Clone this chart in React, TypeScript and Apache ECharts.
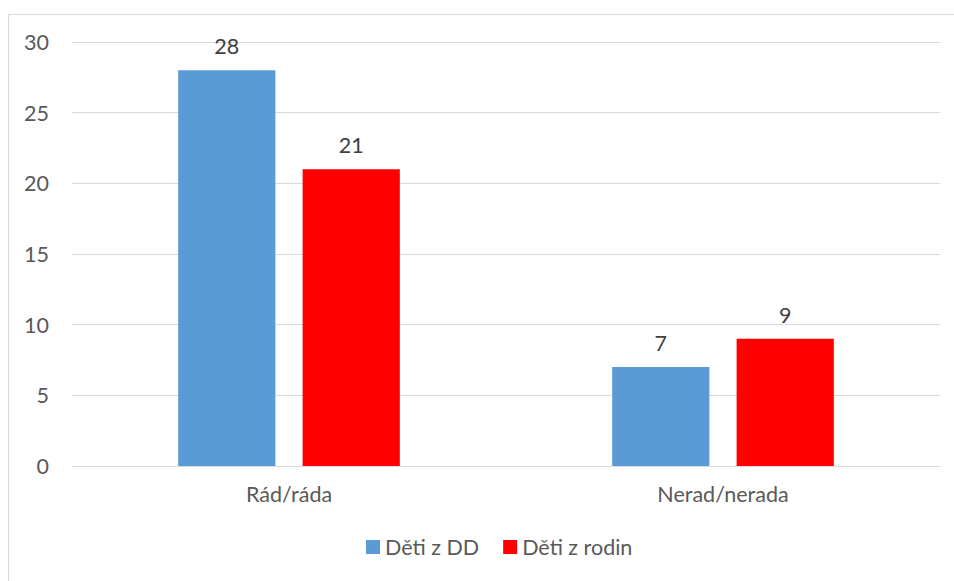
import React, { useEffect, useRef } from "react";
import * as echarts from "echarts";

const categories = ["Rád/ráda", "Nerad/nerada"];
const seriesNames = ["Děti z DD", "Děti z rodin"];
const detiZDD = [28, 7];
const detiZRodin = [21, 9];
const colors = ["#5B9BD5", "#FF0000"];

const FONT = "Lato, 'Noto Sans', sans-serif";
const FS = 21.5;

export default function App() {
  const ref = useRef<HTMLDivElement>(null);
  useEffect(() => {
    if (!ref.current) return;
    const chart = echarts.init(ref.current, null, { renderer: "svg" });
    const values = [detiZDD, detiZRodin];
    chart.setOption({
      animation: false,
      textStyle: { fontFamily: FONT },
      graphic: [
        {
          type: "rect",
          shape: { x: 8.5, y: 14.5, width: 980, height: 620 },
          style: { fill: "none", stroke: "#d9d9d9", lineWidth: 1 },
          silent: true,
        },
      ],
      grid: { left: 72, right: 14, top: 42, bottom: 115, containLabel: false },
      legend: {
        bottom: 18,
        left: 361,
        itemWidth: 14,
        itemHeight: 14,
        itemGap: 24,
        icon: "rect",
        textStyle: { fontSize: FS, color: "#595959", fontFamily: FONT },
        data: seriesNames,
      },
      xAxis: {
        type: "category",
        data: categories,
        axisLine: { show: true, lineStyle: { color: "#d9d9d9", width: 1 } },
        axisTick: { show: false },
        axisLabel: { fontSize: FS, color: "#595959", margin: 17, fontFamily: FONT },
      },
      yAxis: {
        type: "value",
        min: 0,
        max: 30,
        interval: 5,
        axisLine: { show: false },
        axisTick: { show: false },
        splitLine: { lineStyle: { color: "#d9d9d9", width: 1 } },
        axisLabel: { fontSize: FS, color: "#595959", margin: 23, fontFamily: FONT },
      },
      series: seriesNames.map((name, i) => ({
        name,
        type: "bar",
        data: values[i],
        barWidth: "22.4%",
        barGap: "28%",
        itemStyle: { color: colors[i] },
        label: {
          show: true,
          position: "top",
          distance: 13,
          fontSize: FS,
          color: "#404040",
          fontFamily: FONT,
        },
      })),
    });
    return () => chart.dispose();
  }, []);
  return (
    <div
      ref={ref}
      style={{ position: "fixed", left: 0, top: 0, width: 954, height: 581, background: "#fff" }}
    />
  );
}
